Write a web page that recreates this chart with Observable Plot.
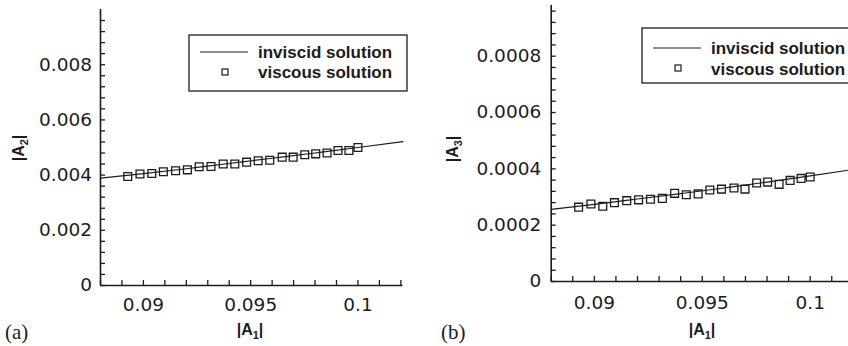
<!DOCTYPE html>
<html><head><meta charset="utf-8">
<script src="https://cdn.jsdelivr.net/npm/d3@7"></script>
<script src="https://cdn.jsdelivr.net/npm/@observablehq/plot@0.6"></script>
<style>
html,body{margin:0;padding:0;background:#fff;overflow:hidden;}
#wrap{position:relative;width:848px;height:346px;overflow:hidden;background:#fff;}
#wrap svg{position:absolute;top:0;}
</style></head><body><div id="wrap"></div>
<script>
// |A1| sample points of the viscous solution (shared by both panels)
const A1 = [0.08927,0.08984,0.09039,0.09093,0.09150,0.09205,0.09260,0.09315,0.09372,0.09426,0.09481,
            0.09535,0.09589,0.09647,0.09698,0.09752,0.09803,0.09856,0.09907,0.09958,0.10000];
// panel (a): |A2| viscous
const A2visc = [0.00395,0.00404,0.00406,0.00412,0.00416,0.00419,0.00430,0.00431,0.00440,0.00440,0.00447,
                0.00452,0.00454,0.00465,0.00465,0.00474,0.00477,0.00480,0.00489,0.00489,0.00500];
// panel (b): |A3| viscous
const A3visc = [0.000264,0.000275,0.000267,0.000280,0.000287,0.000290,0.000292,0.000295,0.000313,0.000308,0.000311,
                0.000325,0.000328,0.000332,0.000328,0.000350,0.000353,0.000345,0.000359,0.000366,0.000371];
// inviscid solution (read points along the curve)
const A1inv = [0.088,0.090,0.092,0.094,0.096,0.098,0.100,0.1021];
const A2inv = [0.00389,0.00405,0.00423,0.00442,0.00461,0.00480,0.00500,0.00521];
const A3inv = [0.000256,0.000274,0.000293,0.000312,0.000332,0.000353,0.000375,0.000399];

const xDomain = [0.088, 0.1021];
const xMajor = [0.09, 0.095, 0.1];
const xLabels = ["0.09", "0.095", "0.1"];
const xTicks = d3.range(0, 15).map(i => 0.088 + i * 0.001);

const yMajorA = [0, 0.002, 0.004, 0.006, 0.008];
const yLabelsA = ["0", "0.002", "0.004", "0.006", "0.008"];
const yTicksA = d3.range(0, 25).map(i => i * 0.0004);

const yMajorB = [0, 0.0002, 0.0004, 0.0006, 0.0008];
const yLabelsB = ["0", "0.0002", "0.0004", "0.0006", "0.0008"];
const yTicksB = d3.range(0, 25).map(i => i * 0.00004);

const INK = "#1c1c1c";

function panel(o) {
  const visc = A1.map((x, i) => ({x, y: o.visc[i]}));
  const inv = A1inv.map((x, i) => ({x, y: o.inv[i]}));
  const svg = Plot.plot({
    width: o.width, height: 346,
    marginLeft: o.marginLeft, marginRight: o.marginRight,
    marginTop: o.marginTop, marginBottom: o.marginBottom,
    x: {domain: xDomain},
    y: {domain: o.yDomain},
    style: {fontFamily: "'DejaVu Sans', sans-serif", fontSize: "18.5px", color: INK, background: "transparent", overflow: "visible"},
    marks: [
      Plot.axisX({ticks: xTicks, tickSize: -5, tickFormat: () => "", label: null, stroke: INK, strokeWidth: 1.3}),
      Plot.axisX({ticks: xMajor, tickSize: 0, tickPadding: o.xPad, tickFormat: d => xLabels[xMajor.indexOf(d)], label: null, fill: INK}),
      Plot.axisY({ticks: o.yTicks, tickSize: -5, tickFormat: () => "", label: null, stroke: INK, strokeWidth: 1.3}),
      Plot.axisY({ticks: o.yMajor, tickSize: 0, tickPadding: o.yPad, tickFormat: d => o.yLabels[o.yMajor.indexOf(d)], label: null, fill: INK}),
      Plot.ruleY([o.yDomain[0]], {stroke: INK, strokeWidth: 1.6}),
      Plot.ruleX([xDomain[0]], {stroke: INK, strokeWidth: 1.6}),
      Plot.line(inv, {x: "x", y: "y", stroke: INK, strokeWidth: 1.2, curve: "natural"}),
      Plot.dot(visc, {x: "x", y: "y", symbol: "square", r: 4.4, stroke: INK, fill: "none", strokeWidth: 1.3})
    ]
  });
  svg.style.left = o.left + "px";
  const s = d3.select(svg);
  const L = o.left;
  // y label with subscript
  const yl = s.append("text")
    .attr("transform", `translate(${o.yLab[0] - L},${o.yLab[1]}) rotate(-90)`)
    .attr("text-anchor", "middle")
    .attr("font-family", "'Liberation Sans', Arial, sans-serif")
    .attr("font-weight", "bold").attr("font-size", 16).attr("fill", INK);
  yl.append("tspan").text("|A");
  yl.append("tspan").attr("font-size", 11).attr("dy", 4).text(o.sub);
  yl.append("tspan").attr("dy", -4).text("|");
  // x label
  const xl = s.append("text")
    .attr("x", o.xLab[0] - L).attr("y", o.xLab[1])
    .attr("text-anchor", "middle")
    .attr("font-family", "'Liberation Sans', Arial, sans-serif")
    .attr("font-weight", "bold").attr("font-size", 16).attr("fill", INK);
  xl.append("tspan").text("|A");
  xl.append("tspan").attr("font-size", 11).attr("dy", 4).text("1");
  xl.append("tspan").attr("dy", -4).text("|");
  // panel tag
  s.append("text").attr("x", o.tag[0] - L).attr("y", o.tag[1])
    .attr("text-anchor", "start")
    .attr("font-family", "'Liberation Serif', 'Times New Roman', serif")
    .attr("font-size", 21).attr("fill", INK).text(o.tagText);
  // legend
  const g = s.append("g").attr("transform", `translate(${o.leg[0] - L},${o.leg[1]})`);
  g.append("rect").attr("x", 0).attr("y", 0).attr("width", 218).attr("height", o.legH)
    .attr("fill", "#fff").attr("stroke", INK).attr("stroke-width", 1.3);
  g.append("line").attr("x1", 11).attr("x2", 59).attr("y1", o.legRow[0]).attr("y2", o.legRow[0])
    .attr("stroke", INK).attr("stroke-width", 1.2);
  g.append("rect").attr("x", 33).attr("y", o.legRow[1] - 3).attr("width", 6).attr("height", 6)
    .attr("fill", "none").attr("stroke", INK).attr("stroke-width", 1.2);
  const tf = sel => sel.attr("x", 69).attr("text-anchor", "start")
    .attr("font-family", "'Liberation Sans', Arial, sans-serif")
    .attr("font-weight", "bold").attr("font-size", 17).attr("fill", INK);
  g.append("text").call(tf).attr("y", o.legBase[0]).text("inviscid solution");
  g.append("text").call(tf).attr("y", o.legBase[1]).text("viscous solution");
  document.getElementById("wrap").appendChild(svg);
}

panel({
  left: 0, width: 424, marginLeft: 100, marginRight: 21.5, marginTop: 9, marginBottom: 61,
  yDomain: [0, 0.01], yMajor: yMajorA, yLabels: yLabelsA, yTicks: yTicksA,
  visc: A2visc, inv: A2inv, xPad: 12, yPad: 8.5, sub: "2",
  yLab: [24, 148], xLab: [250, 335], tag: [5, 339], tagText: "(a)",
  leg: [189, 35], legH: 56, legRow: [17, 37], legBase: [23.3, 43.3]
});
panel({
  left: 424, width: 441, marginLeft: 126.7, marginRight: 10, marginTop: 5, marginBottom: 65,
  yDomain: [0, 0.00098], yMajor: yMajorB, yLabels: yLabelsB, yTicks: yTicksB,
  visc: A3visc, inv: A3inv, xPad: 14, yPad: 10, sub: "3",
  yLab: [457.5, 149], xLab: [702, 335], tag: [441, 339], tagText: "(b)",
  leg: [642, 28], legH: 55, legRow: [20, 40], legBase: [25.5, 47]
});
</script></body></html>
